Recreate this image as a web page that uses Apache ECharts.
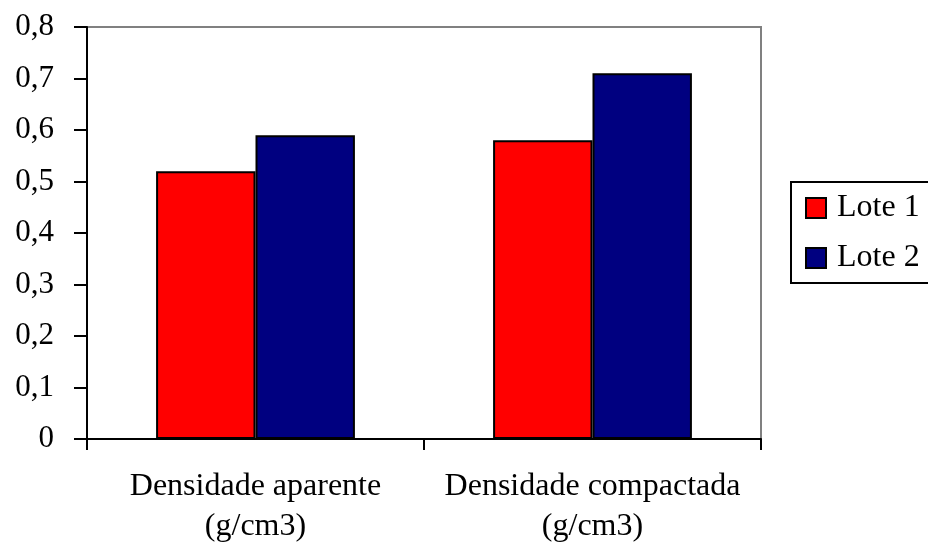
<!DOCTYPE html>
<html>
<head>
<meta charset="utf-8">
<script src="https://cdn.jsdelivr.net/npm/echarts@6/dist/echarts.min.js"></script>
<style>
  html, body { margin: 0; padding: 0; background: #ffffff; overflow: hidden; }
  #chart { width: 928px; height: 547px; }
</style>
</head>
<body>
<div id="chart"></div>
<script>
// Bulk density per batch
const categories = ['Densidade aparente\n(g/cm3)', 'Densidade compactada\n(g/cm3)'];
const lote1 = [0.52, 0.58];
const lote2 = [0.59, 0.71];
const seriesNames = ['Lote 1', 'Lote 2'];
const yTickLabels = ['0', '0,1', '0,2', '0,3', '0,4', '0,5', '0,6', '0,7', '0,8'];

const serif = '"Liberation Serif", "Times New Roman", serif';

const chart = echarts.init(document.getElementById('chart'), null, { renderer: 'canvas' });

chart.setOption({
  animation: false,
  backgroundColor: '#ffffff',
  textStyle: { fontFamily: serif, color: '#000000' },
  grid: {
    left: 87, right: 167, top: 27, bottom: 105,
    show: true, borderColor: '#808080', borderWidth: 2, backgroundColor: 'transparent'
  },
  legend: {
    orient: 'vertical',
    left: 791, top: 182,
    padding: [10, 24, 9, 14],
    itemWidth: 20, itemHeight: 20, itemGap: 18,
    borderColor: '#000000', borderWidth: 2,
    textStyle: { fontFamily: serif, fontSize: 32, color: '#000000', padding: [0, 0, 0, 6] },
    data: seriesNames.map(n => ({ name: n, icon: 'rect' }))
  },
  xAxis: {
    type: 'category',
    data: categories,
    axisLine: { lineStyle: { color: '#000000', width: 2 } },
    axisTick: { show: true, length: 11, lineStyle: { color: '#000000', width: 2 } },
    axisLabel: {
      fontFamily: serif, fontSize: 32, color: '#000000',
      margin: 28, lineHeight: 40, interval: 0
    }
  },
  yAxis: {
    type: 'value',
    min: 0, max: 0.8, interval: 0.1,
    axisLine: { show: true, lineStyle: { color: '#000000', width: 2 } },
    axisTick: { show: true, length: 13, lineStyle: { color: '#000000', width: 2 } },
    splitLine: { show: false },
    axisLabel: {
      fontFamily: serif, fontSize: 31, color: '#000000', margin: 33,
      formatter: v => yTickLabels[Math.round(v * 10)]
    }
  },
  series: [
    {
      name: seriesNames[0], type: 'bar', data: lote1,
      barGap: '0%', barCategoryGap: '41%',
      itemStyle: { color: '#ff0000', borderColor: '#000000', borderWidth: 2 }
    },
    {
      name: seriesNames[1], type: 'bar', data: lote2,
      barGap: '0%', barCategoryGap: '41%',
      itemStyle: { color: '#000080', borderColor: '#000000', borderWidth: 2 }
    }
  ]
});
</script>
</body>
</html>
